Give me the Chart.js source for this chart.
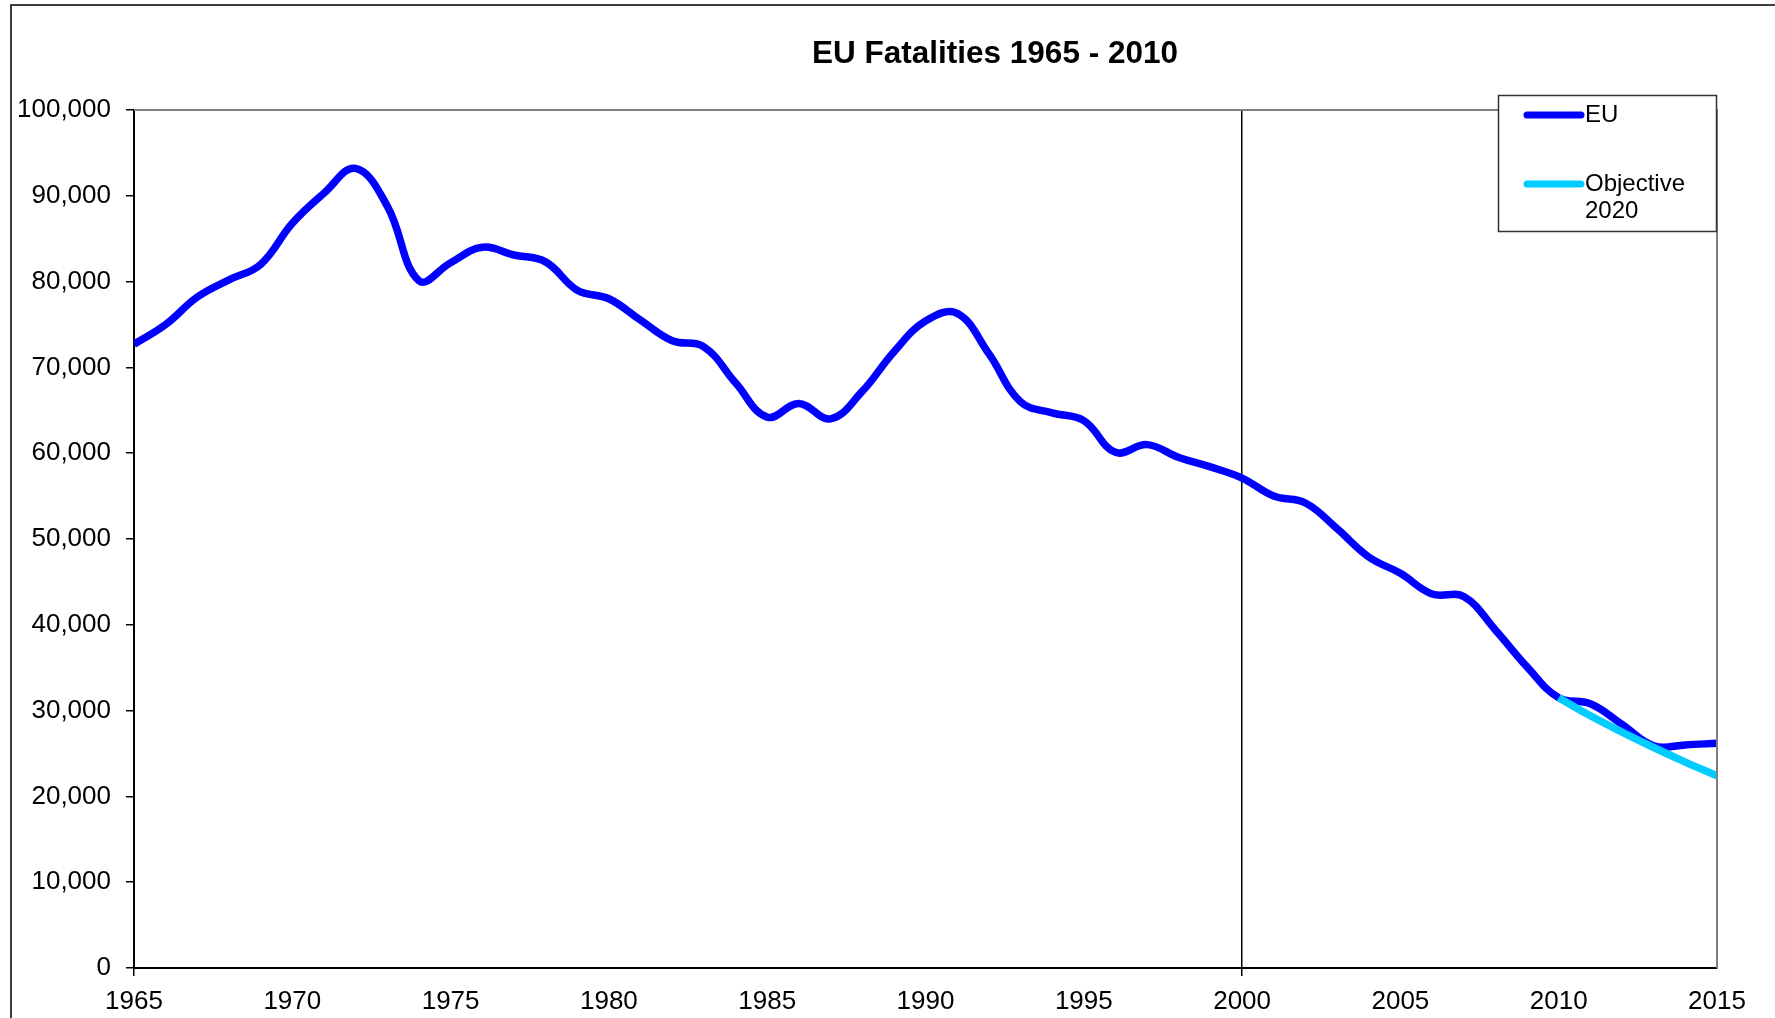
<!DOCTYPE html>
<html>
<head>
<meta charset="utf-8">
<title>EU Fatalities 1965 - 2010</title>
<script src="https://cdn.jsdelivr.net/npm/chart.js@4.4.1/dist/chart.umd.min.js"></script>
<style>
    html, body { margin: 0; padding: 0; background: #fff; }
    #wrap { width: 1775px; height: 1018px; position: relative; }
</style>
</head>
<body>
<div id="wrap"><canvas id="fatalitiesChart"></canvas></div>
<script>
// Jaren en waarden
const years = [1965, 1966, 1967, 1968, 1969, 1970, 1971, 1972, 1973, 1974,
    1975, 1976, 1977, 1978, 1979, 1980, 1981, 1982, 1983, 1984,
    1985, 1986, 1987, 1988, 1989, 1990, 1991, 1992, 1993, 1994,
    1995, 1996, 1997, 1998, 1999, 2000, 2001, 2002, 2003, 2004,
    2005, 2006, 2007, 2008, 2009, 2010, 2011, 2012, 2013, 2014, 2015];
const euValues = [72700, 75000, 78200, 80200, 82000, 86800, 90300, 93200, 88800, 80100,
    82200, 84000, 83100, 82300, 79000, 78000, 75500, 73100, 72400, 68200,
    64200, 65800, 64000, 67200, 71800, 75400, 76300, 71600, 66000, 64700,
    63800, 60100, 61000, 59500, 58400, 57100, 55000, 54200, 51200, 47900,
    46000, 43600, 43300, 39400, 35100, 31500, 30800, 28400, 25900, 26000, 26200];
const objectiveYears = [2010, 2011, 2012, 2013, 2014, 2015];
const objectiveValues = [31500, 29400, 27500, 25700, 24000, 22400];

const chartTitle = 'EU Fatalities 1965 - 2010';
const seriesLabels = ['EU', 'Objective\n2020'];
const seriesColors = ['#0000FF', '#00CCFF'];
const markedYear = 2000; // verticale lijn

const FONT = "'Liberation Sans', Arial, sans-serif";

function toPoints(xs, ys) {
    return xs.map((x, i) => ({ x: x, y: ys[i] }));
}

// Tekent kader, titel, rand van het plotgebied en de legenda
const framePlugin = {
    id: 'frame',
    beforeDraw(chart) {
        const ctx = chart.ctx;
        ctx.save();
        ctx.fillStyle = '#fff';
        ctx.fillRect(0, 0, chart.width, chart.height);
        ctx.strokeStyle = '#000';
        ctx.lineWidth = 1.5;
        ctx.beginPath();
        ctx.moveTo(11, chart.height + 5);
        ctx.lineTo(11, 5);
        ctx.lineTo(chart.width + 5, 5);
        ctx.stroke();
        ctx.restore();
    },
    afterDraw(chart) {
        const ctx = chart.ctx;
        const area = chart.chartArea;
        ctx.save();

        // grijze boven- en rechterrand
        ctx.strokeStyle = '#808080';
        ctx.lineWidth = 2;
        ctx.beginPath();
        ctx.moveTo(area.left, area.top);
        ctx.lineTo(area.right, area.top);
        ctx.lineTo(area.right, area.bottom);
        ctx.stroke();

        // titel
        ctx.fillStyle = '#000';
        ctx.font = 'bold 31.5px ' + FONT;
        ctx.textAlign = 'center';
        ctx.textBaseline = 'middle';
        ctx.fillText(chartTitle, 995, 54);

        // legenda
        const box = { x: 1498.5, y: 95.5, w: 218, h: 136 };
        ctx.fillStyle = '#fff';
        ctx.fillRect(box.x, box.y, box.w, box.h);
        ctx.strokeStyle = '#333';
        ctx.lineWidth = 1.5;
        ctx.strokeRect(box.x, box.y, box.w, box.h);

        const rows = [115, 184];
        ctx.font = '24px ' + FONT;
        ctx.textAlign = 'left';
        chart.data.datasets.forEach((ds, i) => {
            const y = rows[i];
            ctx.strokeStyle = ds.borderColor;
            ctx.lineWidth = 7;
            ctx.lineCap = 'round';
            ctx.beginPath();
            ctx.moveTo(1527, y);
            ctx.lineTo(1581, y);
            ctx.stroke();
            ctx.fillStyle = '#000';
            ds.label.split('\n').forEach((line, j) => {
                ctx.fillText(line, 1585, y + j * 27);
            });
        });
        ctx.restore();
    }
};

const ctx = document.getElementById('fatalitiesChart').getContext('2d');
const fatalitiesChart = new Chart(ctx, {
    type: 'line',
    data: {
        datasets: [
            {
                label: seriesLabels[0],
                data: toPoints(years, euValues),
                borderColor: seriesColors[0],
                borderWidth: 7.5,
                tension: 0.4,
                pointRadius: 0,
                fill: false,
                order: 1
            },
            {
                label: seriesLabels[1],
                data: toPoints(objectiveYears, objectiveValues),
                borderColor: seriesColors[1],
                borderWidth: 7.5,
                tension: 0.4,
                pointRadius: 0,
                fill: false,
                order: 0
            }
        ]
    },
    options: {
        responsive: true,
        maintainAspectRatio: false,
        animation: false,
        layout: { padding: { top: 110, right: 58, left: 0, bottom: 0 } },
        plugins: {
            legend: { display: false },
            title: { display: false },
            tooltip: { enabled: false }
        },
        scales: {
            x: {
                type: 'linear',
                min: 1965,
                max: 2015,
                border: { color: '#000', width: 2 },
                grid: {
                    drawOnChartArea: true,
                    color: (c) => (c.tick && c.tick.value === markedYear) ? '#000' : 'rgba(0,0,0,0)',
                    tickColor: (c) => (c.tick && (c.tick.value === markedYear || c.tick.value === 1965)) ? '#000' : 'rgba(0,0,0,0)',
                    lineWidth: 1.5,
                    tickLength: 8
                },
                ticks: {
                    stepSize: 5,
                    color: '#000',
                    padding: 10,
                    maxRotation: 0,
                    font: { family: FONT, size: 26 },
                    callback: (v) => String(v)
                },
                afterFit: (axis) => { axis.height = 50; }
            },
            y: {
                min: 0,
                max: 100000,
                border: { color: '#000', width: 2 },
                grid: {
                    drawOnChartArea: false,
                    tickColor: '#000',
                    tickLength: 8,
                    lineWidth: 1.5
                },
                ticks: {
                    stepSize: 10000,
                    color: '#000',
                    padding: 15,
                    font: { family: FONT, size: 26 },
                    callback: (v) => v.toLocaleString('en-US')
                },
                afterFit: (axis) => { axis.width = 134; }
            }
        }
    },
    plugins: [framePlugin]
});
</script>
</body>
</html>
